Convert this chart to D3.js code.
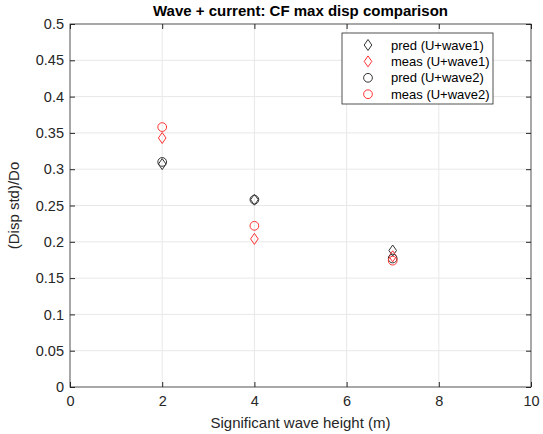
<!DOCTYPE html>
<html>
<head>
<meta charset="utf-8">
<script src="https://cdn.jsdelivr.net/npm/d3@7"></script>
<style>
  body { margin: 0; background: #fff; }
  text { font-family: "Liberation Sans", Arial, sans-serif; }
</style>
</head>
<body>
<div class="chart"></div>
<script>
var waveHeights = [2, 4, 7];
var predWave1 = [0.307, 0.258, 0.188];
var measWave1 = [0.343, 0.204, 0.180];
var predWave2 = [0.310, 0.258, 0.177];
var measWave2 = [0.358, 0.222, 0.174];
var xTicks = [0, 2, 4, 6, 8, 10];
var yTicks = [0, 0.05, 0.1, 0.15, 0.2, 0.25, 0.3, 0.35, 0.4, 0.45, 0.5];

var series = [
    { name: 'pred (U+wave1)', values: predWave1, shape: 'diamond', color: '#333333' },
    { name: 'meas (U+wave1)', values: measWave1, shape: 'diamond', color: '#ff3333' },
    { name: 'pred (U+wave2)', values: predWave2, shape: 'circle', color: '#333333' },
    { name: 'meas (U+wave2)', values: measWave2, shape: 'circle', color: '#ff3333' }
];

var margin = { top: 24, right: 12, bottom: 47, left: 70 };
var width = 543 - margin.left - margin.right;
var height = 434 - margin.top - margin.bottom;

var svg = d3.select('.chart')
    .append('svg')
    .attr('width', 543)
    .attr('height', 434)
    .append('g')
    .attr('transform', `translate(${margin.left}, ${margin.top})`);

var xScale = d3.scaleLinear().domain([0, 10]).range([0, width]);
var yScale = d3.scaleLinear().domain([0, 0.5]).range([height, 0]);

// grid
svg.append('g')
    .selectAll('line')
    .data(xTicks.slice(1, -1))
    .enter()
    .append('line')
    .attr('x1', d => xScale(d)).attr('x2', d => xScale(d))
    .attr('y1', 0).attr('y2', height)
    .style('stroke', '#e8e8e8');
svg.append('g')
    .selectAll('line')
    .data(yTicks.slice(1, -1))
    .enter()
    .append('line')
    .attr('y1', d => yScale(d)).attr('y2', d => yScale(d))
    .attr('x1', 0).attr('x2', width)
    .style('stroke', '#e8e8e8');

// axes with inward ticks (box style)
function styleAxis(g) {
    g.select('.domain').remove();
    g.selectAll('line').style('stroke', '#262626');
    g.selectAll('text').style('fill', '#262626').style('font-size', '14.5px');
}
svg.append('g')
    .attr('transform', `translate(0, ${height})`)
    .call(d3.axisBottom(xScale).tickValues(xTicks).tickSize(-5).tickPadding(9).tickFormat(d3.format('d')))
    .call(styleAxis);
svg.append('g')
    .call(d3.axisTop(xScale).tickValues(xTicks).tickSize(-5).tickFormat(''))
    .call(styleAxis);
svg.append('g')
    .call(d3.axisLeft(yScale).tickValues(yTicks).tickSize(-5).tickPadding(6).tickFormat(d => d3.format('~g')(d)))
    .call(styleAxis);
svg.append('g')
    .attr('transform', `translate(${width}, 0)`)
    .call(d3.axisRight(yScale).tickValues(yTicks).tickSize(-5).tickFormat(''))
    .call(styleAxis);

svg.append('rect')
    .attr('width', width)
    .attr('height', height)
    .style('fill', 'none')
    .style('stroke', '#262626')
    .style('stroke-width', 0.8);

var circle = d3.symbol().type(d3.symbolCircle).size(60);

function markerPath(shape) {
    return shape === 'diamond' ? 'M0,-5.5L3.8,0L0,5.5L-3.8,0Z' : circle();
}

series.forEach(function (s) {
    svg.append('g')
        .selectAll('path')
        .data(s.values)
        .enter()
        .append('path')
        .attr('d', markerPath(s.shape))
        .attr('transform', (d, i) => `translate(${xScale(waveHeights[i])}, ${yScale(d)})`)
        .style('fill', 'none')
        .style('stroke', s.color)
        .style('stroke-width', 1);
});

// legend
var legend = svg.append('g').attr('transform', `translate(${342 - margin.left}, ${33 - margin.top})`);
legend.append('rect')
    .attr('width', 151)
    .attr('height', 71)
    .style('fill', '#fff')
    .style('stroke', '#262626')
    .style('stroke-width', 0.8);
series.forEach(function (s, i) {
    var row = legend.append('g').attr('transform', `translate(0, ${12 + i * 16.4})`);
    row.append('path')
        .attr('d', markerPath(s.shape))
        .attr('transform', 'translate(26, 0)')
        .style('fill', 'none')
        .style('stroke', s.color);
    row.append('text')
        .attr('x', 49)
        .attr('dy', '0.35em')
        .style('font-size', '13px')
        .style('fill', '#000')
        .text(s.name);
});

// title and labels
svg.append('text')
    .attr('x', width / 2)
    .attr('y', -8)
    .attr('text-anchor', 'middle')
    .style('font-size', '15px')
    .style('font-weight', 'bold')
    .style('fill', '#000')
    .text('Wave + current: CF max disp comparison');
svg.append('text')
    .attr('x', width / 2)
    .attr('y', height + 41)
    .attr('text-anchor', 'middle')
    .style('font-size', '15px')
    .style('fill', '#262626')
    .text('Significant wave height (m)');
svg.append('text')
    .attr('transform', `translate(${-51}, ${height / 2}) rotate(-90)`)
    .attr('text-anchor', 'middle')
    .style('font-size', '15px')
    .style('fill', '#262626')
    .text('(Disp std)/Do');
</script>
</body>
</html>
